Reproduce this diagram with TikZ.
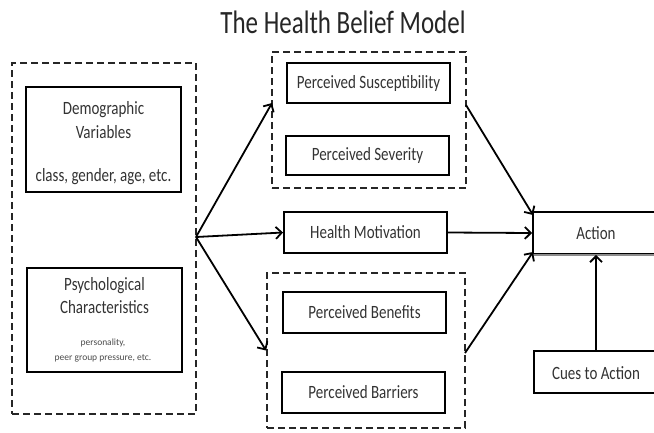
\documentclass[tikz,border=0pt]{standalone}
\usepackage{fontspec}
\setmainfont{Carlito}
\usetikzlibrary{arrows.meta}
\newcommand\tallt[1]{\scalebox{1}[1.25]{#1}}
\begin{document}
\begin{tikzpicture}[x=1pt,y=-1pt,
  box/.style={draw=black, line width=1.9pt, inner sep=0pt, text=black!80, font=\fontsize{15}{17}\selectfont},
  grp/.style={draw=black!85, line width=1.9pt, dash pattern=on 7pt off 4pt, inner sep=0pt},
  lbl/.style={text=black!80, inner sep=0pt, font=\fontsize{15}{17}\selectfont},
  small/.style={text=black!70, inner sep=0pt, font=\fontsize{9.5}{11}\selectfont},
  arr/.style={line width=1.8pt, -{Straight Barb[length=6pt,width=12pt,line width=1.8pt]}}]
\useasboundingbox (0,0) rectangle (654,432);
\fill[white] (0,0) rectangle (654,432);

\node[text=black!85, inner sep=0pt, font=\fontsize{25}{28}\selectfont] (title) at (343,22) {\scalebox{1}[1.3]{The Health Belief Model}};

% left group
\node[grp, minimum width=184pt, minimum height=351pt] (leftgrp) at (104,238.5) {};
\node[box, minimum width=155pt, minimum height=105pt] (demo) at (103.5,139.5) {};
\node[lbl] (demo1) at (103.5,110) {\tallt{Demographic}};
\node[lbl] (demo2) at (103.5,132) {\tallt{Variables}};
\node[lbl] (demo3) at (103.5,177) {\tallt{class, gender, age, etc.}};
\node[box, minimum width=155pt, minimum height=104pt] (psych) at (104.5,320) {};
\node[lbl] (psych1) at (104.5,286) {\tallt{Psychological}};
\node[lbl] (psych2) at (104.5,307) {\tallt{Characteristics}};
\node[small] (psych3) at (103,343) {personality,};
\node[small] (psych4) at (103,358) {peer group pressure, etc.};

% middle
\node[grp, minimum width=194pt, minimum height=136pt] (topgrp) at (369,120) {};
\node[box, minimum width=163pt, minimum height=40pt] (susc) at (368.5,83) {\tallt{Perceived Susceptibility}};
\node[box, minimum width=163pt, minimum height=39pt] (sev) at (367.5,155.5) {\tallt{Perceived Severity}};
\node[box, minimum width=163pt, minimum height=41pt] (hm) at (365.5,232.5) {\tallt{Health Motivation}};
\node[grp, minimum width=198pt, minimum height=155pt] (botgrp) at (366,350.5) {};
\node[box, minimum width=163pt, minimum height=41pt] (ben) at (364.5,312.5) {\tallt{Perceived Benefits}};
\node[box, minimum width=163pt, minimum height=41pt] (bar) at (363.5,392.5) {\tallt{Perceived Barriers}};

% right (boxes run past the right edge, as in the reference)
\node[box, minimum width=132pt, minimum height=42pt] (action) at (599,233) {};
\draw[black!45, line width=1.9pt] (action.south west) -- (action.south east);
\node[lbl] (actionlbl) at (596,233) {\tallt{Action}};
\node[box, minimum width=132pt, minimum height=42pt] (cues) at (600,372) {};
\node[lbl] (cueslbl) at (596,373) {\tallt{Cues to Action}};

% connector points
\coordinate (src) at (196,237);
\coordinate (t1) at (272,103);
\coordinate (t2) at (466,105);
\coordinate (a1) at (533,215);
\coordinate (b2) at (465,353);
\coordinate (a3) at (533,252);

\draw[arr] (src) -- (t1);
\draw[arr] (src) -- (hm.west);
\draw[arr] (src) -- (botgrp.west);
\draw[arr] (t2) -- (a1);
\draw[arr] (hm.east) -- (action.west);
\draw[arr] (b2) -- (a3);
\draw[arr] (cues.north -| actionlbl) -- (action.south -| actionlbl);
\end{tikzpicture}
\end{document}
